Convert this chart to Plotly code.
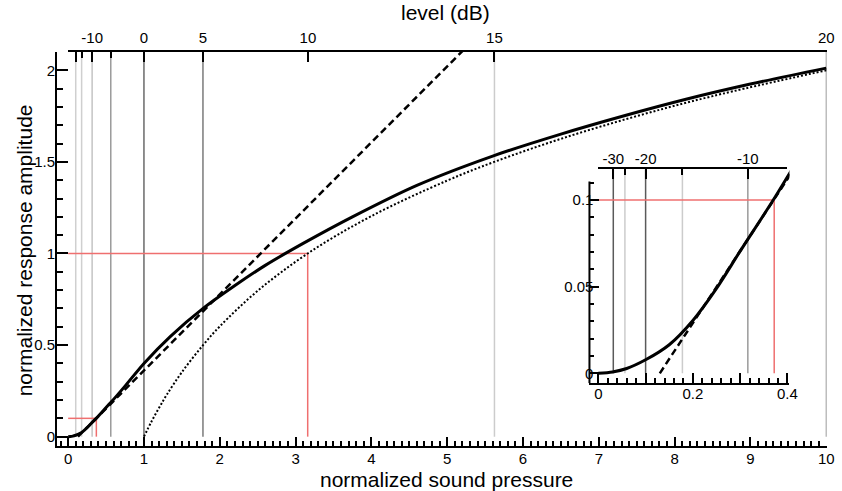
import plotly.graph_objects as go

# ---------------- data ----------------
# response curve (solid)
resp_x = [0.0, 0.03, 0.06, 0.1, 0.15, 0.2, 0.25, 0.3, 0.37, 0.45, 0.57, 0.75, 1.0,
          1.35, 1.78, 2.2, 2.6, 3.1, 3.75, 4.6, 5.6, 6.5, 7.3, 8.15, 9.0, 10.0]
resp_y = [0.0, 0.0008, 0.0028, 0.0078, 0.0165, 0.0305, 0.049, 0.0705, 0.1, 0.136, 0.19, 0.276, 0.40,
          0.548, 0.70, 0.825, 0.935, 1.055, 1.20, 1.372, 1.532, 1.652, 1.748, 1.842, 1.925, 2.012]
# level/10 curve (dotted)
lev_x = [1.0, 1.1, 1.2, 1.3, 1.5, 1.78, 2.0, 2.5, 3.16, 4.0, 5.0, 5.62, 6.5, 7.5, 8.5, 10.0]
lev_y = [0.0, 0.083, 0.158, 0.228, 0.352, 0.50, 0.602, 0.796, 1.0, 1.204, 1.398, 1.50, 1.626, 1.75, 1.859, 2.0]
# linear tangent (dashed)
tan_x = [0.13, 5.3]
tan_y = [0.0, 2.146]

# threshold markers (red): amplitude 0.1 and 1
thr_x = [0.372, 3.16]
thr_y = [0.1, 1.0]

# level axis (dB) ticks
main_db_major = [-20, -10, 0, 5, 10, 15, 20]
main_db_major_text = ['', '-10', '0', '5', '10', '15', '20']
main_db_minor = [-15, -5]
inset_db_major = [-30, -20, -10]
inset_db_major_text = ['-30', '-20', '-10']
inset_db_minor = [-25, -15]

# vertical level lines (dB)
main_line_db = [-20, -15, -10, -5, 0, 5, 15, 20]
inset_line_db = [-30, -25, -20, -15, -10]

# axis titles
title_x = 'normalized sound pressure'
title_y = 'normalized response amplitude'
title_top = 'level (dB)'

# styles
main_line_col = ['#cfcfcf', '#cfcfcf', '#c4c4c4', '#9a9a9a', '#6a6a6a', '#7a7a7a', '#cccccc', '#bdbdbd']
inset_line_col = ['#5a5a5a', '#cccccc', '#5a5a5a', '#cccccc', '#9a9a9a']
RED = '#ef6f6f'
FONT = 'Liberation Sans, Arial, Helvetica, sans-serif'


def db2p(db):
    return [10 ** (d / 20.0) for d in db]


fig = go.Figure()

for xa, ya in (('x', 'y'), ('x3', 'y3')):
    fig.add_trace(go.Scatter(x=tan_x, y=tan_y, mode='lines', xaxis=xa, yaxis=ya, hoverinfo='skip',
                             line=dict(color='black', width=2.5, dash='7px,4px')))
fig.add_trace(go.Scatter(x=lev_x, y=lev_y, mode='lines', xaxis='x', yaxis='y',
                         line=dict(color='black', width=2, dash='2px,2px', shape='spline')))
for xa, ya in (('x', 'y'), ('x3', 'y3')):
    fig.add_trace(go.Scatter(x=resp_x, y=resp_y, mode='lines', xaxis=xa, yaxis=ya,
                             line=dict(color='black', width=3, shape='spline', smoothing=0.8)))
# placeholder traces so that the level (dB) axes are drawn
fig.add_trace(go.Scatter(x=[None], y=[None], xaxis='x2', yaxis='y', mode='lines', hoverinfo='skip'))
fig.add_trace(go.Scatter(x=[None], y=[None], xaxis='x4', yaxis='y3', mode='lines', hoverinfo='skip'))

shapes = []
YMAX = 2.10
for p, c in zip(db2p(main_line_db), main_line_col):
    shapes.append(dict(type='line', xref='x', yref='y', x0=p, x1=p, y0=0, y1=YMAX,
                       line=dict(color=c, width=1.5), layer='below'))
IYMAX = 0.1177
for p, c in zip(db2p(inset_line_db), inset_line_col):
    shapes.append(dict(type='line', xref='x3', yref='y3', x0=p, x1=p, y0=0, y1=IYMAX,
                       line=dict(color=c, width=1.5), layer='below'))
# red threshold lines
for tx, ty in zip(thr_x, thr_y):
    shapes.append(dict(type='line', xref='x', yref='y', x0=0, x1=tx, y0=ty, y1=ty,
                       line=dict(color=RED, width=1.5), layer='below'))
    shapes.append(dict(type='line', xref='x', yref='y', x0=tx, x1=tx, y0=0, y1=ty,
                       line=dict(color=RED, width=1.5), layer='below'))
shapes.append(dict(type='line', xref='x3', yref='y3', x0=0, x1=thr_x[0], y0=thr_y[0], y1=thr_y[0],
                   line=dict(color=RED, width=1.5), layer='below'))
shapes.append(dict(type='line', xref='x3', yref='y3', x0=thr_x[0], x1=thr_x[0], y0=0, y1=thr_y[0],
                   line=dict(color=RED, width=1.5), layer='below'))
# inset left axis line
shapes.append(dict(type='line', xref='x3 domain', yref='y3', x0=0, x1=0, y0=-0.00577, y1=0.1106,
                   line=dict(color='black', width=2)))

tickfont = dict(family=FONT, size=15, color='black')
titlefont = dict(family=FONT, size=21, color='black')
common = dict(showgrid=False, zeroline=False, showline=True, linecolor='black', linewidth=2,
              ticks='inside', tickcolor='black', tickwidth=2, tickfont=tickfont)

annotations = [
    dict(text=title_x, xref='paper', yref='paper', x=0.5064, y=-0.0838, showarrow=False,
         xanchor='center', yanchor='middle', font=titlefont),
    dict(text=title_top, xref='paper', yref='paper', x=0.5051, y=1.1015, showarrow=False,
         xanchor='center', yanchor='middle', font=titlefont),
    dict(text=title_y, xref='paper', yref='paper', x=-0.0411, y=0.4975, showarrow=False,
         textangle=-90, xanchor='center', yanchor='middle', font=titlefont),
]

fig.update_layout(
    width=842, height=491, autosize=False,
    margin=dict(l=57, r=7, t=52, b=45),
    paper_bgcolor='white', plot_bgcolor='rgba(0,0,0,0)',
    showlegend=False,
    shapes=shapes,
    annotations=annotations,
    xaxis=dict(domain=[0, 1], range=[-0.147, 10.01], anchor='y', tick0=0, dtick=1, ticklen=9,
               ticklabelstandoff=-2,
               minor=dict(dtick=0.1, tick0=0, ticks='inside', ticklen=5, tickwidth=2, tickcolor='black'),
               **common),
    yaxis=dict(domain=[0, 1], range=[-0.051, YMAX], anchor='x', tick0=0, dtick=0.5, ticklen=11,
               ticklabelstandoff=-3,
               minor=dict(dtick=0.1, tick0=0, ticks='inside', ticklen=6, tickwidth=2, tickcolor='black'),
               **common),
    xaxis2=dict(domain=[0.0145, 1], range=[0, 10.01], anchor='y', side='top',
                tickmode='array', tickvals=db2p(main_db_major), ticktext=main_db_major_text, ticklen=10,
                ticklabelstandoff=1,
                minor=dict(tickmode='array', tickvals=db2p(main_db_minor), ticks='inside', ticklen=6,
                           tickwidth=2, tickcolor='black'),
                **common),
    xaxis3=dict(domain=[0.6915, 0.9512], range=[-0.0188, 0.4042], anchor='y3',
                tickmode='array', tickvals=[0, 0.1, 0.2, 0.3, 0.4], ticktext=['0', '', '0.2', '', '0.4'],
                ticklen=10, ticklabelstandoff=-4,
                minor=dict(dtick=0.02, tick0=0, ticks='inside', ticklen=5, tickwidth=2, tickcolor='black'),
                **common),
    yaxis3=dict(domain=[0.1591, 0.7023], range=[-0.00577, IYMAX], anchor='x3',
                tickmode='array', tickvals=[0, 0.05, 0.1], ticktext=['0', '0.05', '0.1'], ticklen=10,
                ticklabelstandoff=-5,
                minor=dict(dtick=0.01, tick0=0, ticks='inside', ticklen=5, tickwidth=2, tickcolor='black'),
                **{**common, 'showline': False}),
    xaxis4=dict(domain=[0.7031, 0.9486], range=[0, 0.4], anchor='y3', side='top',
                tickmode='array', tickvals=db2p(inset_db_major), ticktext=inset_db_major_text, ticklen=10,
                ticklabelstandoff=-3,
                minor=dict(tickmode='array', tickvals=db2p(inset_db_minor), ticks='inside', ticklen=6,
                           tickwidth=2, tickcolor='black'),
                **common),
)

# remove the default page margin so the figure sits at the window's top-left corner
fig.write_html('out.html', config={'displayModeBar': False},
               post_script="document.body.style.margin='0';")
